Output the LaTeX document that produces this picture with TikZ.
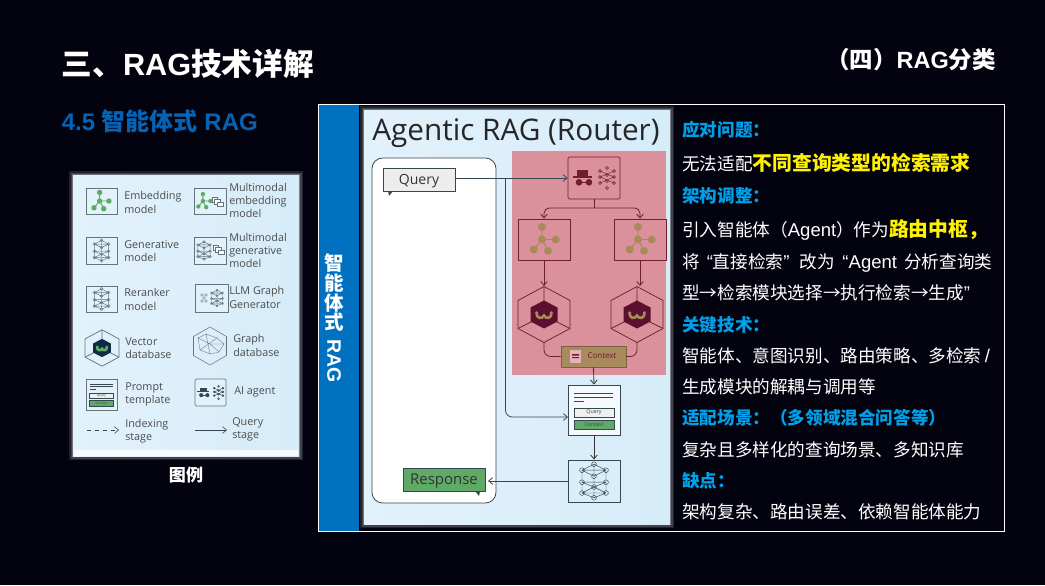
\documentclass[tikz,border=0pt]{standalone}
\usepackage{fontspec}
\setmainfont{Liberation Sans}
\newfontfamily\cjk{Noto Sans CJK SC}
\newfontfamily\figfont{Open Sans}
\usetikzlibrary{arrows.meta}
\definecolor{slidebg}{HTML}{03030F}
\definecolor{barblue}{HTML}{0070C0}
\definecolor{headblue}{HTML}{00A0E9}
\definecolor{subblue}{HTML}{0563B5}
\definecolor{picbg}{HTML}{D6ECF9}
\definecolor{pinkbg}{HTML}{DA919B}
\definecolor{pinkline}{HTML}{6E1F2B}
\definecolor{gridline}{HTML}{37474F}
\definecolor{softline}{HTML}{66757D}
\definecolor{olive}{HTML}{A98A5C}
\definecolor{leafgreen}{HTML}{5FAA66}
\definecolor{hexred}{HTML}{5C0F2E}
\definecolor{hexblue}{HTML}{0F2A44}
\newcommand{\zh}[1]{{\cjk\fontsize{13.2}{13.2}\selectfont #1}}
\newcommand{\zhmark}[1]{{\cjk\bfseries\color{yellow}\fontsize{14.85}{14.85}\selectfont #1}}
\tikzset{
    bodytext/.style={anchor=base west, inner sep=0pt, text=white, font=\fontsize{13.9}{13.9}\selectfont},
    headtext/.style={bodytext, text=headblue, font=\fontsize{13.2}{13.2}\selectfont\bfseries},
    legendtext/.style={anchor=west, inner sep=0pt, align=left, text=black!70, font=\figfont\fontsize{8.1}{9.9}\selectfont},
    bartext/.style={inner sep=0pt, text=white, font=\cjk\fontsize{14.6}{14.6}\selectfont\bfseries},
    iconbox/.style={draw=softline, fill=white!30!picbg, line width=0.6pt, minimum width=#1, inner sep=0pt},
    flow/.style={draw=gridline, line width=0.6pt, -{Straight Barb[length=3pt,width=5pt]}},
    pinkflow/.style={flow, draw=pinkline},
    pics/embicon/.style={code={
        \draw[#1, line width=0.7pt] (-2,-12) -- (-2,0) -- (11,0) (-10,10) -- (-2,0) -- (4,11);
        \foreach \p in {(-2,-12.5),(-2,0),(11.7,0),(-10.3,10),(4,11.3)}
            \fill[#1] \p circle (4);
    }},
    pics/neticon/.style={code={
        \foreach \a/\b in {0/-14,-10/-9,10/-9,-10/1,10/1,-10/10,10/10,0/14,0/-4,0/5}
            \draw[#1, line width=0.35pt] (\a,\b) circle (2);
        \draw[#1, line width=0.35pt] (0,-14) -- (-10,-9) -- (-10,10) -- (0,14) -- (10,10) -- (10,-9) -- cycle
            (-10,-9) -- (10,-9) (-10,1) -- (10,1) (-10,10) -- (10,10) (0,-14) -- (0,14)
            (-10,-9) -- (0,-4) -- (10,-9) (-10,1) -- (0,5) -- (10,1) (-10,10) -- (0,5) -- (10,10);
    }},
    pics/hexicon/.style args={#1/#2/#3}{code={
        \draw[#1, line width=0.55pt] (0,-28) -- (26,-14) -- (26,14) -- (0,28) -- (-26,14) -- (-26,-14) -- cycle;
        \draw[#1, line width=0.55pt] (0,-28) -- (0,-13) (26,14) -- (12,7) (-26,14) -- (-12,7);
        \fill[#2] (0,-14) -- (13.5,-7) -- (13.5,7) -- (0,14) -- (-13.5,7) -- (-13.5,-7) -- cycle;
        \draw[#3, line width=2pt, line cap=round] (-7.5,-2) .. controls (-8,4) and (-2,5) .. (0,1) .. controls (2,5) and (8,4) .. (7.5,-2);
    }},
    pics/spyicon/.style={code={
        \fill[#1] (-17,-8) rectangle (-6,-2);
        \fill[#1] (-21,-2) rectangle (-2,-0.5);
        \fill[#1] (-15,4.3) circle (3.3) (-5,4.3) circle (3.3);
        \draw[#1, line width=0.7pt] (-15,4.3) -- (-5,4.3);
        \foreach \a/\b in {6/-7,13/-10,20/-7,6/-1,13/-3,20/-1,6/5,13/3,20/5,13/10}
            \draw[#1, line width=0.4pt] (\a,\b) circle (1.5);
        \draw[#1, line width=0.3pt] (6,-7) -- (20,-1) (20,-7) -- (6,-1) (6,-1) -- (20,5) (20,-1) -- (6,5);
    }},
    pics/docicon/.style={code={
        \draw[#1, line width=0.5pt, fill=white] (0,0) rectangle (8,7);
        \draw[#1, line width=0.5pt, fill=white] (4,3) rectangle (12,10);
        \draw[#1, line width=0.5pt, fill=white] (8,7) rectangle (16,14);
    }},
    pics/prompticon/.style={code={
        \draw[gridline, line width=0.7pt] (-20,-17) -- (19,-17) (-20,-13) -- (19,-13) (-20,-9) -- (-10,-9);
        \node[draw=gridline, fill=black!6, line width=0.5pt, minimum width=30pt, minimum height=7pt, inner sep=0pt, font=\figfont\fontsize{4}{4}\selectfont, text=gridline, transform shape] (#1q) at (0,2.5) {Query};
        \node[draw=gridline, fill=leafgreen, line width=0.4pt, minimum width=30pt, minimum height=7pt, inner sep=0pt, font=\figfont\fontsize{4}{4}\selectfont, text=gridline, transform shape] (#1c) at (0,14.5) {Context};
    }},
}
\newcommand{\glowbox}[2]{%
    \foreach \w/\o in {8/0.12, 5/0.15, 2.5/0.25}
        \draw[white, draw opacity=\o, line width=\w*0.75pt] #1 rectangle #2;
}
\begin{document}
\begin{tikzpicture}[x=0.75pt, y=-0.75pt]
    \useasboundingbox (0,0) rectangle (1045,585);
    \fill[slidebg] (0,0) rectangle (1045,585);

    % Headings
    \node[anchor=base west, inner sep=0pt, text=white, font=\fontsize{23}{23}\selectfont\bfseries] (title) at (61.5,75) {{\cjk 三、}RAG{\cjk 技术详解}};
    \node[anchor=base east, inner sep=0pt, text=white, font=\fontsize{17.6}{17.6}\selectfont\bfseries] (section) at (996,68.5) {{\cjk （四）}RAG{\cjk 分类}};
    \node[anchor=base west, inner sep=0pt, text=subblue, font=\fontsize{18}{18}\selectfont\bfseries] (subtitle) at (61.5,130) {4.5 {\cjk 智能体式} RAG};

    % Frame on the right
    \draw[white, line width=0.75pt] (318,104) rectangle (1004,531);
    \fill[barblue] (318.5,104.5) rectangle (359,530.5);
    \node[bartext] (bara) at (334,263) {智};
    \node[bartext] (barb) at (334,283) {能};
    \node[bartext] (barc) at (334,303) {体};
    \node[bartext] (bard) at (334,322) {式};
    \node[bartext, rotate=-90, font=\fontsize{14.6}{14.6}\selectfont\bfseries] (bare) at (334,361) {RAG};

    % Legend picture
    \glowbox{(73,175)}{(299,456)}
    \shade[left color=picbg!70!white, right color=picbg] (73,175) rectangle (299,456);
    \fill[white!80!picbg] (74,450) rectangle (298,456);
    \node[iconbox=31*0.75pt, minimum height=26*0.75pt] (lemb) at (101.5,201) {};
    \pic[scale=0.68] at (101,201) {embicon=leafgreen};
    \node[legendtext] (lembt) at (124,202.5) {Embedding\\model};
    \node[iconbox=32*0.75pt, minimum height=26*0.75pt] (lmemb) at (210,201) {};
    \pic[scale=0.55] at (204,201) {embicon=leafgreen};
    \pic[scale=0.7] at (212,197) {docicon=softline};
    \node[legendtext] (lmembt) at (229,200.5) {Multimodal\\embedding\\model};
    \node[iconbox=31*0.75pt, minimum height=27*0.75pt] (lgen) at (101.5,250.5) {};
    \pic[scale=0.72] at (101.5,250.5) {neticon=softline};
    \node[legendtext] (lgent) at (124,251) {Generative\\model};
    \node[iconbox=32*0.75pt, minimum height=27*0.75pt] (lmgen) at (210,250.5) {};
    \pic[scale=0.62] at (204,250.5) {neticon=softline};
    \pic[scale=0.7] at (213,245) {docicon=softline};
    \node[legendtext] (lmgent) at (229,250.5) {Multimodal\\generative\\model};
    \node[iconbox=31*0.75pt, minimum height=26*0.75pt] (lrer) at (101.5,299) {};
    \pic[scale=0.72] at (101.5,299) {neticon=softline};
    \node[legendtext] (lrert) at (124,299.5) {Reranker\\model};
    \node[iconbox=33*0.75pt, minimum height=28*0.75pt] (lllm) at (211.5,298) {};
    \pic[scale=0.55] at (217,298) {neticon=softline};
    \foreach \a/\b in {202/295,206/295,202/301,206/301,204/298}
        \draw[softline, line width=0.3pt] (\a,\b) circle (1.3);
    \node[legendtext] (lllmt) at (229,297.5) {LLM Graph\\Generator};
    \pic[scale=0.65] at (102,348) {hexicon=softline/hexblue/leafgreen};
    \node[legendtext] (lvect) at (125,348.5) {Vector\\database};
    \draw[softline, line width=0.4pt] (210,327) -- (226.5,336.5) -- (226.5,355.5) -- (210,365) -- (193.5,355.5) -- (193.5,336.5) -- cycle;
    \draw[softline, line width=0.25pt] (198,338) -- (206,334) -- (217,338) -- (224,344) -- (219,352) -- (210,354) -- (200,350) -- cycle
        (198,338) -- (210,344) -- (224,344) (206,334) -- (210,354) (217,338) -- (200,350) (210,344) -- (219,352);
    \node[legendtext] (lgrat) at (233,345.5) {Graph\\database};
    \node[iconbox=31*0.75pt, minimum height=31*0.75pt] (lpro) at (101.5,394.5) {};
    \pic[scale=0.6] at (101.5,394.5) {prompticon=lpro};
    \node[legendtext] (lprot) at (125,394.5) {Prompt\\template};
    \node[iconbox=31*0.75pt, minimum height=27*0.75pt, rounded corners=1pt] (lage) at (210.5,392.5) {};
    \pic[scale=0.62] at (210.5,392.5) {spyicon=gridline};
    \node[legendtext] (laget) at (234,392) {AI agent};
    \coordinate (lidxa) at (87,430);
    \coordinate (lidxb) at (119,430);
    \draw[flow, dashed, line width=0.45pt] (lidxa) -- (lidxb);
    \node[legendtext] (lidxt) at (125,431.5) {Indexing\\stage};
    \coordinate (lqrya) at (195,430);
    \coordinate (lqryb) at (227,430);
    \draw[flow, line width=0.45pt] (lqrya) -- (lqryb);
    \node[legendtext] (lqryt) at (232,429) {Query\\stage};
    \node[inner sep=0pt, text=white, font=\cjk\fontsize{12.8}{12.8}\selectfont\bfseries] (legendcap) at (186,475) {图例};

    % Router picture
    \glowbox{(364,110)}{(670,524)}
    \shade[left color=picbg!70!white, right color=picbg] (364,110) rectangle (670,524);
    \node[anchor=base west, inner sep=0pt, text=black!85, font=\figfont\fontsize{22.3}{22.3}\selectfont] (pictitle) at (372,140) {Agentic RAG (Router)};
    \draw[gridline, fill=white, line width=0.6pt, rounded corners=8pt] (372,158) rectangle (496,503);
    \fill[pinkbg] (512,151) rectangle (666,375);

    \node[draw=gridline, fill=black!7, line width=0.6pt, minimum width=72*0.75pt, minimum height=23*0.75pt, inner sep=0pt, text height=1.5ex, text depth=0pt, text=black!80, font=\figfont\fontsize{10.5}{10.5}\selectfont] (query) at (419,179.5) {Query};
    \fill[gridline] (388,191) -- (389,196) -- (393,191) -- cycle;
    \node[draw=pinkline, line width=0.6pt, rounded corners=1pt, minimum width=52*0.75pt, minimum height=42*0.75pt] (agent) at (594,178) {};
    \pic at (594,178) {spyicon=pinkline};
    \node[draw=pinkline, line width=0.6pt, minimum width=52*0.75pt, minimum height=41*0.75pt] (embl) at (544,239.5) {};
    \pic at (544,239.5) {embicon=olive};
    \node[draw=pinkline, line width=0.6pt, minimum width=52*0.75pt, minimum height=41*0.75pt] (embr) at (640,239.5) {};
    \pic at (640,239.5) {embicon=olive};
    \pic at (544,314.5) {hexicon=pinkline/hexred/olive};
    \pic at (637,314.5) {hexicon=pinkline/hexred/olive};
    \coordinate (hexltop) at (544,286);
    \coordinate (hexlbot) at (544,342);
    \coordinate (hexrtop) at (637,286);
    \coordinate (hexrbot) at (637,342);
    \coordinate (split) at (594,208);
    \node[draw=olive!70!black, fill=olive, line width=0.4pt, minimum width=65*0.75pt, minimum height=21*0.75pt, inner sep=0pt] (context) at (593.5,356.5) {};
    \node[inner sep=0pt, text=pinkline, font=\figfont\fontsize{6}{6}\selectfont] (contextt) at (602,356) {Context};
    \fill[pinkbg!70!white] (570,350) rectangle (581,363);
    \fill[pinkline] (572,354) rectangle (579,355.5) (572,357) rectangle (579,358);

    \node[draw=gridline, fill=white!70!picbg, line width=0.7pt, minimum width=52*0.75pt, minimum height=50*0.75pt, inner sep=0pt] (prompt) at (594,410) {};
    \pic at (594,410) {prompticon=p};
    \node[draw=gridline, line width=0.7pt, minimum width=52*0.75pt, minimum height=42*0.75pt] (gen) at (594,481) {};
    \pic[scale=1.2] at (594,481) {neticon=gridline};
    \node[draw=gridline, fill=leafgreen, line width=0.6pt, minimum width=82*0.75pt, minimum height=23*0.75pt, inner sep=0pt, text height=1.5ex, text depth=0pt, text=black!80, font=\figfont\fontsize{11.2}{11.2}\selectfont] (response) at (444,479.5) {Response};
    \fill[gridline] (475,491) -- (479,496) -- (480,491) -- cycle;

    \coordinate (branch) at (505.5,178);
    \coordinate (promptin) at (568,417);
    \draw[flow] (query.east |- agent.west) -- (agent.west);
    \draw[flow, rounded corners=5pt] (branch) |- (promptin);
    \draw[pinkline, line width=0.6pt] (agent.south) -- (split);
    \draw[pinkflow, rounded corners=4pt] (split) -| (embl.north);
    \draw[pinkflow, rounded corners=4pt] (split) -| (embr.north);
    \draw[pinkflow] (embl.south) -- (hexltop);
    \draw[pinkflow] (embr.south) -- (embr.south |- hexrtop);
    \draw[pinkline, line width=0.6pt, rounded corners=5pt] (hexlbot) |- (context.west);
    \draw[pinkline, line width=0.6pt, rounded corners=5pt] (hexrbot) |- (context.east);
    \draw[flow, black!80] (context.south) -- (prompt.north);
    \draw[flow, black!80] (prompt.south) -- (gen.north);
    \draw[flow, shorten >=2pt] (gen.west) -- (response.east |- gen.west);

    % Text on the right
    \node[headtext] (t1) at (682,136) {\zh{应对问题：}};
    \node[bodytext] (t2) at (682,170) {\zh{无法适配}\zhmark{不同查询类型的检索需求}};
    \node[headtext] (t3) at (682,202) {\zh{架构调整：}};
    \node[bodytext] (t4) at (682,236) {\zh{引入智能体（}Agent\zh{）作为}\zhmark{路由中枢，}};
    \node[bodytext] (t5) at (682,268) {\zh{将}\hspace{1.3pt} “\zh{直接检索}”\hspace{3.7pt} \zh{改为}\hspace{1.9pt} “Agent\hspace{1.5pt} \zh{分析查询类}};
    \node[bodytext] (t6) at (682,299) {\zh{型→检索模块选择→执行检索→生成}”};
    \node[headtext] (t7) at (682,331) {\zh{关键技术：}};
    \node[bodytext] (t8) at (682,362) {\zh{智能体、意图识别、路由策略、多检索}\hspace{2.5pt}/};
    \node[bodytext] (t9) at (682,393) {\zh{生成模块的解耦与调用等}};
    \node[headtext] (t10) at (682,424) {\zh{适配场景：（多领域混合问答等）}};
    \node[bodytext] (t11) at (682,456) {\zh{复杂且多样化的查询场景、多知识库}};
    \node[headtext] (t12) at (682,487) {\zh{缺点：}};
    \node[bodytext] (t13) at (682,518) {\zh{架构复杂、路由误差、依赖智能体能力}};
\end{tikzpicture}
\end{document}
